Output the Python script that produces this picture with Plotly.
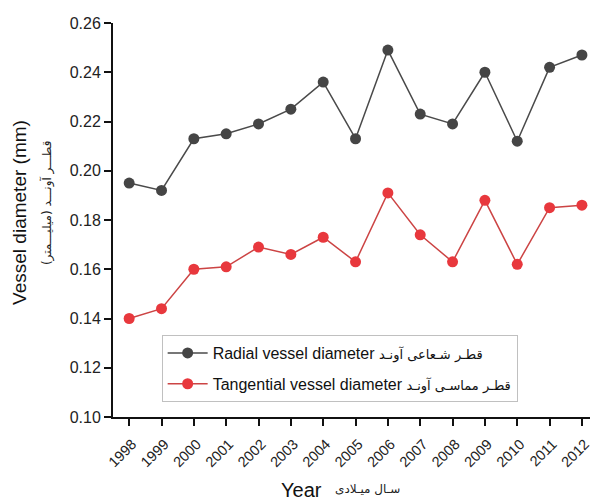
import plotly.graph_objects as go

years = list(range(1998, 2013))
radial = [0.195, 0.192, 0.213, 0.215, 0.219, 0.225, 0.236, 0.213, 0.249,
          0.223, 0.219, 0.240, 0.212, 0.242, 0.247]
tangential = [0.140, 0.144, 0.160, 0.161, 0.169, 0.166, 0.173, 0.163, 0.191,
              0.174, 0.163, 0.188, 0.162, 0.185, 0.186]
y_ticks = [0.10, 0.12, 0.14, 0.16, 0.18, 0.20, 0.22, 0.24, 0.26]

fa_style = "font-size:13px;font-family:DejaVu Sans"
radial_name = f"Radial vessel diameter <span style='{fa_style}'>قطـر شـعاعی آونـد</span>"
tangential_name = f"Tangential vessel diameter <span style='{fa_style}'>قطـر مماسـی آونـد</span>"

font_family = "Liberation Sans, Arial, DejaVu Sans, sans-serif"

fig = go.Figure()
fig.add_trace(go.Scatter(
    x=years, y=radial, name=radial_name, mode="lines+markers",
    legendgroup="radial",
    line=dict(color="#4a4a4a", width=1.5),
    marker=dict(color="#454545", size=11),
))
fig.add_trace(go.Scatter(
    x=years, y=tangential, name=tangential_name, mode="lines+markers",
    legendgroup="tangential",
    line=dict(color="#cc4444", width=1.5),
    marker=dict(color="#e8383d", size=11),
))

fig.update_layout(
    width=597, height=501,
    margin=dict(l=113, r=5, t=23, b=84),
    paper_bgcolor="white", plot_bgcolor="white",
    font=dict(family=font_family, color="#222", size=13),
    showlegend=True,
    legend=dict(
        x=0.102, y=0.208, xanchor="left", yanchor="top",
        bgcolor="white", bordercolor="#c0c0c0", borderwidth=1,
        font=dict(size=16, color="#111"),
        tracegroupgap=7, itemwidth=40,
    ),
    xaxis=dict(
        range=[1997.5, 2012.25], tickmode="array", tickvals=years,
        ticktext=[str(y) for y in years], tickangle=-45,
        showline=True, linecolor="#111", linewidth=2,
        ticks="outside", ticklen=7, tickwidth=1.5, tickcolor="#111",
        showgrid=False, zeroline=False,
        ticklabelshift=3, ticklabelstandoff=4,
        tickfont=dict(size=14.5, color="#222"),
    ),
    yaxis=dict(
        range=[0.10, 0.26], tickmode="array", tickvals=y_ticks,
        ticktext=[f"{v:.2f}" for v in y_ticks],
        showline=True, linecolor="#111", linewidth=2,
        ticks="outside", ticklen=7, tickwidth=1.5, tickcolor="#111",
        showgrid=False, zeroline=False,
        tickfont=dict(size=16, color="#222"),
    ),
)

# Axis titles (English plus Persian)
fig.add_annotation(
    text="Vessel diameter (mm)", xref="paper", yref="paper",
    x=0, y=0.518, xshift=-93, xanchor="center", yanchor="middle",
    textangle=-90, showarrow=False,
    font=dict(size=19, color="#111"),
)
fig.add_annotation(
    text="قطـــر آونـــد (میلیـــمتر)", xref="paper", yref="paper",
    x=0, y=0.543, xshift=-66, xanchor="center", yanchor="middle",
    textangle=-90, showarrow=False,
    font=dict(size=12, color="#222", family="DejaVu Sans"),
)
fig.add_annotation(
    text="Year", xref="paper", yref="paper",
    x=0, y=0, xshift=188, yshift=-73, xanchor="center", yanchor="middle",
    showarrow=False,
    font=dict(size=20, color="#111"),
)
fig.add_annotation(
    text="سـال میـلادی", xref="paper", yref="paper",
    x=0, y=0, xshift=254, yshift=-72, xanchor="center", yanchor="middle",
    showarrow=False,
    font=dict(size=12, color="#222", family="DejaVu Sans"),
)

fig.write_html("out.html")
